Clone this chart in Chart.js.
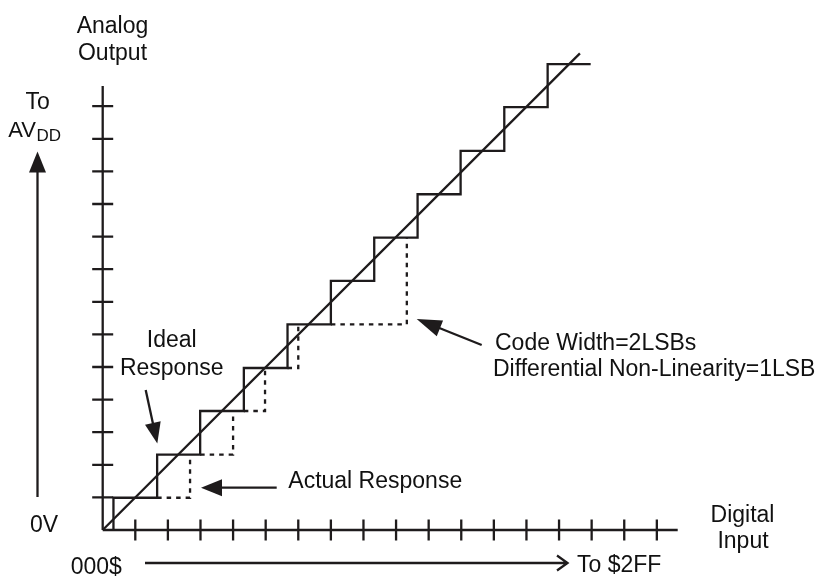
<!DOCTYPE html>
<html>
<head>
<meta charset="utf-8">
<script src="https://cdn.jsdelivr.net/npm/chart.js@4/dist/chart.umd.min.js"></script>
<style>
  html, body { margin: 0; padding: 0; background: #fff; }
  #wrap { width: 825px; height: 576px; }
</style>
</head>
<body>
<div id="wrap"><canvas id="c" width="825" height="576"></canvas></div>
<script>
// ---- data (grid units: one tick spacing = 1) ----
const xTicks = [1, 2, 3, 4, 5, 6, 7, 8, 9, 10, 11, 12, 13, 14, 15, 16, 17];
const yTicks = [1, 2, 3, 4, 5, 6, 7, 8, 9, 10, 11, 12, 13];
const xAxisMax = 17.64;
const yAxisMax = 13.62;

// ideal (straight) response
const idealX = [0, 14.64];
const idealY = [0, 14.62];

// staircase: code transition edges and output levels
const stepEdges  = [0.33, 1.67, 2.99, 4.33, 5.67, 7.00, 8.33, 9.66, 10.98, 12.32, 13.65, 14.97];
const stepLevels = [0.99, 2.31, 3.65, 4.97, 6.31, 7.64, 8.97, 10.30, 11.63, 12.97, 14.29];

// dotted (non-linear) response segments
const dnlStartX = [1.67, 2.99, 4.33, 5.67, 7.00];
const dnlEndX   = [2.68, 4.00, 4.98, 6.00, 9.33];
const dnlLevel  = [0.99, 2.31, 3.65, 4.97, 6.31];
const dnlNext   = [2.31, 3.65, 4.97, 6.31, 8.97];

// ---- build datasets ----
const INK = '#1e1b1c';
const LW = 2.3;
const stairPts = [{x: stepEdges[0], y: 0}];
for (let i = 0; i < stepLevels.length; i++) {
  stairPts.push({x: stepEdges[i], y: stepLevels[i]});
  stairPts.push({x: stepEdges[i + 1], y: stepLevels[i]});
}
const base = {showLine: true, pointRadius: 0, borderColor: INK, borderWidth: LW,
  tension: 0, clip: false, borderJoinStyle: 'miter', borderCapStyle: 'butt', fill: false};
const datasets = [
  Object.assign({}, base, {data: idealX.map((x, i) => ({x, y: idealY[i]}))}),
  Object.assign({}, base, {data: stairPts})
];
for (let i = 0; i < dnlStartX.length; i++) {
  datasets.push(Object.assign({}, base, {
    borderDash: [4.5, 5],
    data: [{x: dnlStartX[i], y: dnlLevel[i]}, {x: dnlEndX[i], y: dnlLevel[i]}, {x: dnlEndX[i], y: dnlNext[i]}]
  }));
}

function arrowHead(ctx, tx, ty, fx, fy, len, half) {
  const dx = tx - fx, dy = ty - fy, d = Math.hypot(dx, dy);
  const ux = dx / d, uy = dy / d;
  const bx = tx - ux * len, by = ty - uy * len;
  ctx.beginPath();
  ctx.moveTo(tx, ty);
  ctx.lineTo(bx - uy * half, by + ux * half);
  ctx.lineTo(bx + uy * half, by - ux * half);
  ctx.closePath();
  ctx.fill();
}
function arrow(ctx, fx, fy, tx, ty, len, half) {
  const dx = tx - fx, dy = ty - fy, d = Math.hypot(dx, dy);
  ctx.beginPath();
  ctx.moveTo(fx, fy);
  ctx.lineTo(tx - dx / d * (len - 2), ty - dy / d * (len - 2));
  ctx.stroke();
  arrowHead(ctx, tx, ty, fx, fy, len, half);
}

const decor = {
  id: 'decor',
  beforeDatasetsDraw(chart) {
    const ctx = chart.ctx, xs = chart.scales.x, ys = chart.scales.y;
    const x0 = xs.getPixelForValue(0), y0 = ys.getPixelForValue(0);
    ctx.save();
    ctx.strokeStyle = INK; ctx.lineWidth = LW; ctx.lineCap = 'butt';
    ctx.beginPath();
    ctx.moveTo(x0, y0); ctx.lineTo(x0, ys.getPixelForValue(yAxisMax));
    ctx.moveTo(x0, y0); ctx.lineTo(xs.getPixelForValue(xAxisMax), y0);
    yTicks.forEach(v => { const p = ys.getPixelForValue(v); ctx.moveTo(x0 - 10.5, p); ctx.lineTo(x0 + 10.5, p); });
    xTicks.forEach(v => { const p = xs.getPixelForValue(v); ctx.moveTo(p, y0 - 10.5); ctx.lineTo(p, y0 + 10.5); });
    ctx.stroke();
    ctx.restore();
  },
  afterDatasetsDraw(chart) {
    const ctx = chart.ctx;
    ctx.save();
    ctx.fillStyle = INK; ctx.strokeStyle = INK; ctx.lineWidth = LW;
    // left vertical arrow
    arrow(ctx, 37.5, 497, 37.5, 151.5, 21, 8.5);
    // bottom arrow with open head
    ctx.beginPath();
    ctx.moveTo(145, 563); ctx.lineTo(567, 563);
    ctx.moveTo(557, 555.5); ctx.lineTo(567.5, 563); ctx.lineTo(557, 570.5);
    ctx.stroke();
    // callouts
    arrow(ctx, 145.7, 390, 157.3, 443.5, 21, 8);
    arrow(ctx, 276.7, 487.7, 201, 487.7, 21, 8.5);
    arrow(ctx, 481.7, 345, 416.7, 319, 25, 8.5);

    ctx.fillStyle = '#111';
    ctx.font = '23px "Liberation Sans", Arial, sans-serif';
    ctx.textBaseline = 'alphabetic';
    ctx.textAlign = 'center';
    ctx.fillText('Analog', 112.5, 32.5);
    ctx.fillText('Output', 112.5, 60);
    ctx.fillText('To', 37.7, 109);
    ctx.fillText('Digital', 742.5, 521.7);
    ctx.fillText('Input', 743, 548.3);
    ctx.fillText('Ideal', 171.7, 346.7);
    ctx.fillText('Response', 171.7, 375);
    ctx.textAlign = 'left';
    ctx.font = '22px "Liberation Sans", Arial, sans-serif';
    ctx.fillText('AV', 8.3, 137);
    ctx.font = '17px "Liberation Sans", Arial, sans-serif';
    ctx.fillText('DD', 36.5, 141);
    ctx.font = '23px "Liberation Sans", Arial, sans-serif';
    ctx.fillText('0V', 30, 531.7);
    ctx.fillText('000$', 70.7, 573.5);
    ctx.fillText('To $2FF', 577, 572);
    ctx.fillText('Actual Response', 288.3, 488);
    ctx.fillText('Code Width=2LSBs', 495, 350);
    ctx.fillText('Differential Non-Linearity=1LSB', 493, 376);
    ctx.restore();
  }
};

new Chart(document.getElementById('c'), {
  type: 'scatter',
  data: {datasets},
  options: {
    responsive: false,
    devicePixelRatio: 1,
    animation: false,
    layout: {padding: {left: 102.7, right: 147.3, top: 86, bottom: 46}},
    plugins: {legend: {display: false}, tooltip: {enabled: false}},
    elements: {line: {tension: 0}},
    scales: {
      x: {type: 'linear', min: 0, max: xAxisMax, display: false},
      y: {type: 'linear', min: 0, max: yAxisMax, display: false}
    }
  },
  plugins: [decor]
});
</script>
</body>
</html>
